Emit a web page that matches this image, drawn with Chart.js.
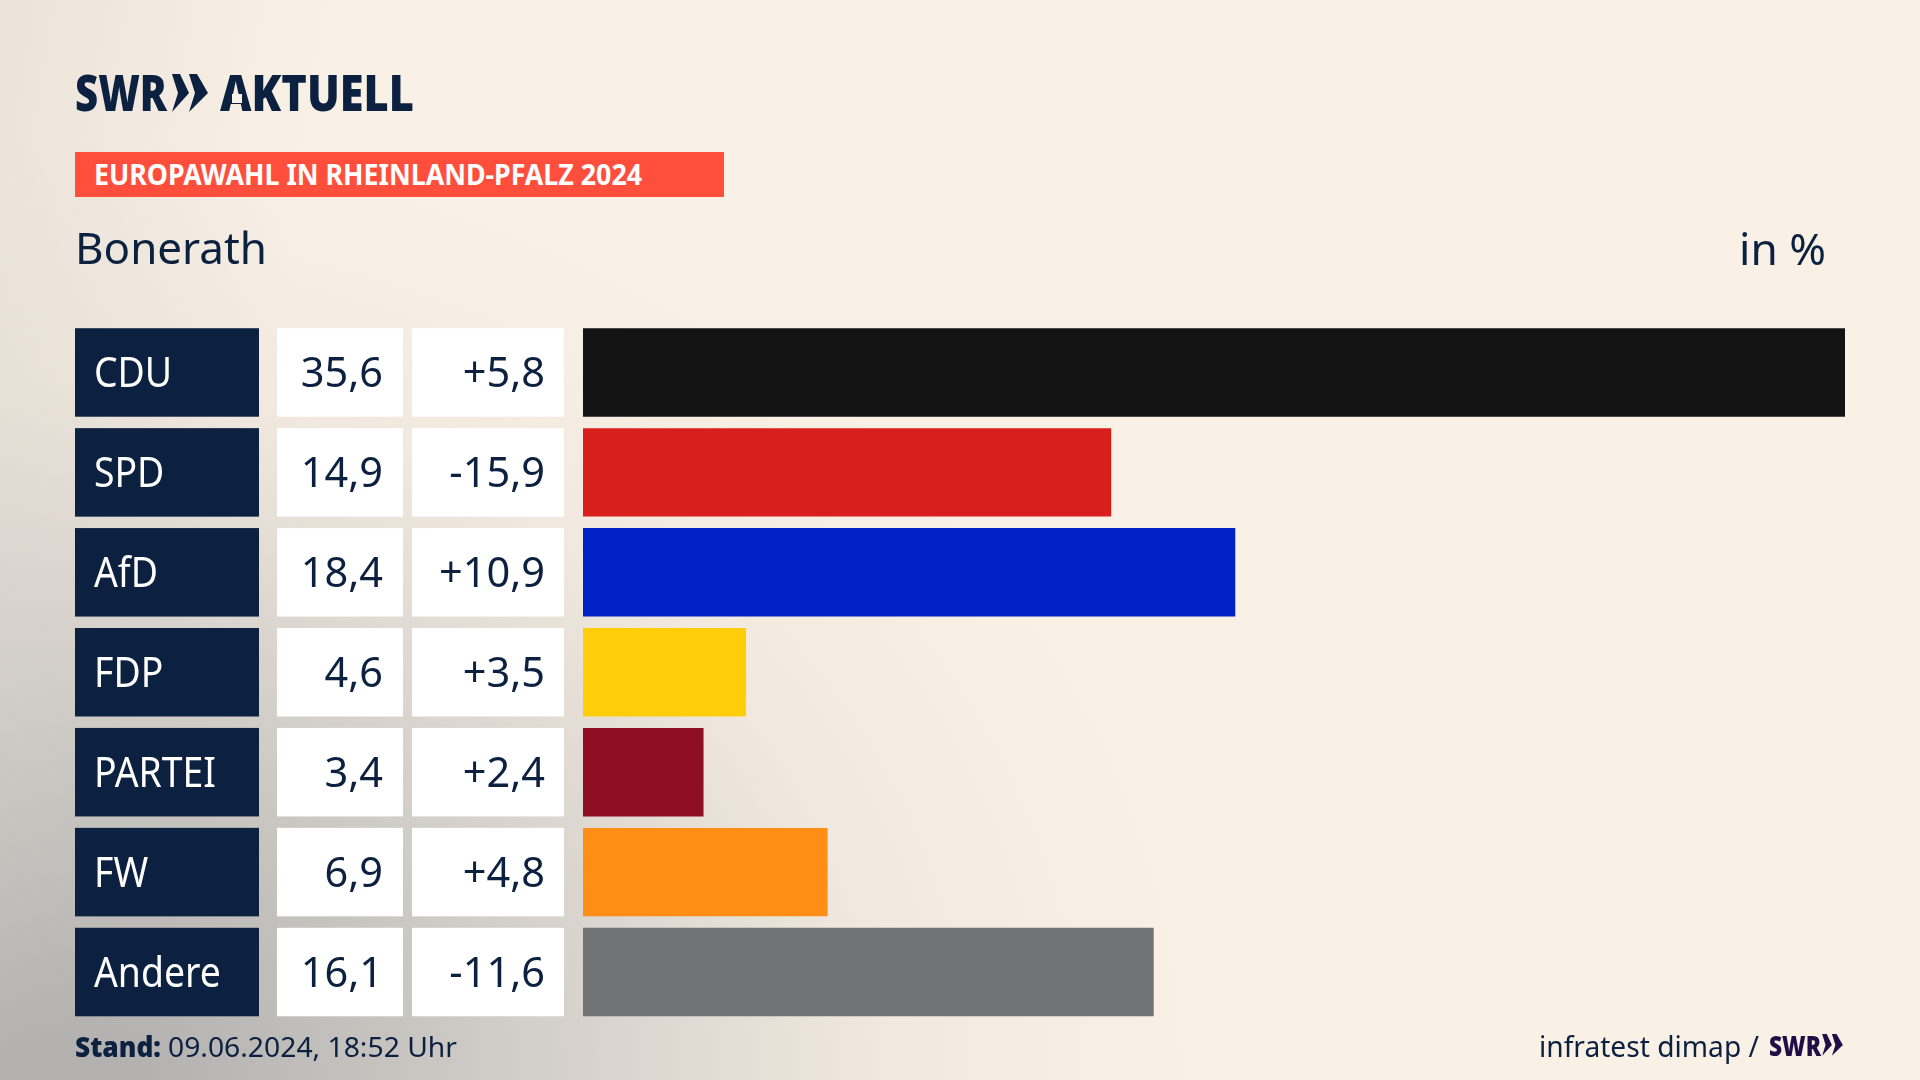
<!DOCTYPE html>
<html lang="de">
<head>
<meta charset="utf-8">
<title>Europawahl in Rheinland-Pfalz 2024 - Bonerath</title>
<script src="https://cdn.jsdelivr.net/npm/chart.js@4"></script>
<style>
html, body { margin: 0; padding: 0; width: 1920px; height: 1080px; overflow: hidden; }
body {
    position: relative;
    font-family: "Noto Sans", sans-serif;
    color: #0c2040;
    background-color: #faf1e6;
    background-image:
        linear-gradient(100deg, rgba(215,210,203,.45) 0, rgba(250,241,230,0) 16%),
        radial-gradient(ellipse 1200px 950px at 0 1080px, #a8a8a8 0, #c6c3bf 32%, #dad5ce 52%, #f1e9df 74%, #faf1e6 100%);
}
#chart { position: absolute; left: 0; top: 0; }
.txt { position: absolute; white-space: nowrap; transform-origin: 0 0; line-height: 1; }
#band { position: absolute; left: 75px; top: 152px; width: 649px; height: 45px; background: #ff4f3c; }
#crossbar { position: absolute; left: 232px; top: 94px; width: 10px; height: 9px; background: #f9f0e6; }
svg.chev { position: absolute; }
</style>
</head>
<body>
<canvas id="chart" width="1920" height="1080"></canvas>

<div id="band"></div>
<div class="txt" data-w="92" style="left:75px;top:67px;font-size:50px;font-weight:900">SWR</div>
<svg class="chev" style="left:170px;top:74px" width="40" height="40" viewBox="0 0 40 40" fill="#0c2040">
    <polygon points="2,0 10,0 19,19 2,38 8,19"/>
    <polygon points="19,0 27,0 38,19 19,38 25,19"/>
</svg>
<div class="txt" data-w="194" style="left:220px;top:67px;font-size:50px;font-weight:900">AKTUELL</div>
<div id="crossbar"></div>
<div class="txt" data-w="548" style="left:94px;top:160px;font-size:28px;font-weight:700;color:#fff">EUROPAWAHL IN RHEINLAND-PFALZ 2024</div>
<div class="txt" data-w="192" style="left:75px;top:225px;font-size:44px">Bonerath</div>
<div class="txt" data-w="87" style="left:1739px;top:226px;font-size:44px">in %</div>
<div class="txt" data-w="86" style="left:75px;top:1032px;font-size:28px;font-weight:900">Stand:</div>
<div class="txt" data-w="289" style="left:168px;top:1032px;font-size:28px">09.06.2024, 18:52 Uhr</div>
<div class="txt" data-w="220" style="left:1539px;top:1031px;font-size:29px">infratest dimap /</div>
<div class="txt" data-w="52" style="left:1769px;top:1031px;font-size:28px;font-weight:900;color:#1f0f46">SWR</div>
<svg class="chev" style="left:1821px;top:1034px" width="23" height="23" viewBox="0 0 40 40" fill="#1f0f46">
    <polygon points="2,0 10,0 19,19 2,38 8,19"/>
    <polygon points="19,0 27,0 38,19 19,38 25,19"/>
</svg>

<script>
var parties = ['CDU', 'SPD', 'AfD', 'FDP', 'PARTEI', 'FW', 'Andere'];
var shares = [35.6, 14.9, 18.4, 4.6, 3.4, 6.9, 16.1];
var changes = [5.8, -15.9, 10.9, 3.5, 2.4, 4.8, -11.6];
var partyColors = ['#141414', '#d81f1c', '#0021c4', '#ffcd0a', '#8f0e22', '#ff8e16', '#727375'];

function formatShare(value) {
    return value.toFixed(1).replace('.', ',');
}

function formatChange(value) {
    return (value > 0 ? '+' : '') + formatShare(value);
}

function drawText(ctx, text, x, y, align, squeeze) {
    ctx.save();
    ctx.translate(x, y);
    ctx.scale(squeeze, 1);
    ctx.textAlign = align;
    ctx.fillText(text, 0, 0);
    ctx.restore();
}

// party name and the two number cells left of each bar
var tableCells = {
    id: 'tableCells',
    afterDatasetsDraw: function (chart) {
        var ctx = chart.ctx;
        var yScale = chart.scales.y;
        var rowHeight = 88.5;

        ctx.save();
        ctx.textBaseline = 'alphabetic';
        ctx.font = '41.5px "Noto Sans"';
        parties.forEach(function (party, i) {
            var center = yScale.getPixelForValue(i);
            var top = center - rowHeight / 2;
            var baseline = center + 14.5;

            ctx.fillStyle = '#0c2040';
            ctx.fillRect(75, top, 184, rowHeight);
            ctx.fillStyle = '#ffffff';
            ctx.fillRect(277, top, 126, rowHeight);
            ctx.fillRect(412, top, 152, rowHeight);

            ctx.fillStyle = '#ffffff';
            drawText(ctx, party, 94, baseline, 'left', 0.9);
            ctx.fillStyle = '#0c2040';
            drawText(ctx, formatShare(shares[i]), 383, baseline, 'right', 1);
            drawText(ctx, formatChange(changes[i]), 545, baseline, 'right', 1);
        });
        ctx.restore();
    }
};

new Chart(document.getElementById('chart').getContext('2d'), {
    type: 'bar',
    data: {
        labels: parties,
        datasets: [{
            data: shares,
            backgroundColor: partyColors,
            borderWidth: 0,
            barPercentage: 0.885,
            categoryPercentage: 1
        }]
    },
    options: {
        indexAxis: 'y',
        responsive: false,
        animation: false,
        layout: { padding: { left: 583, right: 75, top: 322.5, bottom: 58 } },
        scales: {
            x: { display: false, min: 0, max: 35.6 },
            y: { display: false }
        },
        plugins: {
            legend: { display: false },
            tooltip: { enabled: false }
        }
    },
    plugins: [tableCells]
});

// squeeze the header and footer texts to the narrower width of the original font
document.querySelectorAll('.txt').forEach(function (el) {
    var scale = Number(el.dataset.w) / el.getBoundingClientRect().width;
    el.style.transform = 'scaleX(' + scale + ')';
});
</script>
</body>
</html>
